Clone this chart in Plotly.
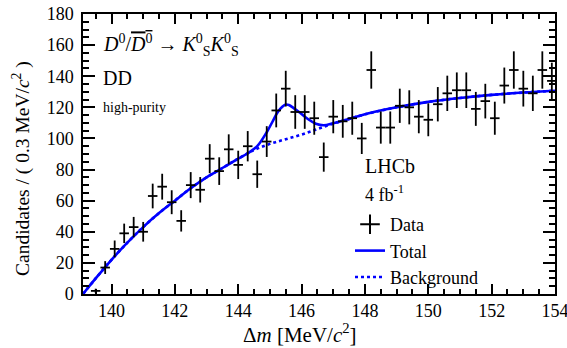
import numpy as np
import plotly.graph_objects as go

# ---- data ----
bin_centers = [139.5, 139.8, 140.1, 140.4, 140.7, 141.0, 141.3, 141.6, 141.9, 142.2,
               142.5, 142.8, 143.1, 143.4, 143.7, 144.0, 144.3, 144.6, 144.9, 145.2,
               145.5, 145.8, 146.1, 146.4, 146.7, 147.0, 147.3, 147.6, 147.9, 148.2,
               148.5, 148.8, 149.1, 149.4, 149.7, 150.0, 150.3, 150.6, 150.9, 151.2,
               151.5, 151.8, 152.1, 152.4, 152.7, 153.0, 153.3, 153.6, 153.9]
counts = [2, 17, 29, 39, 43, 40, 63, 69, 59, 47,
          70, 67, 87, 79, 93, 83, 95, 77, 98, 118,
          132, 117, 117, 113, 88, 114, 111, 113, 100, 144,
          107, 107, 121, 120, 114, 112, 122, 129, 131, 131,
          119, 124, 113, 134, 144, 132, 129, 144, 137]
bin_halfwidth = [0.15] * len(bin_centers)

bkg_x = [139.1, 139.5, 140.0, 140.5, 141.0, 141.5, 142.0, 142.5, 143.0, 143.5,
         144.0, 144.5, 145.0, 145.5, 146.0, 146.5, 147.0, 147.5, 148.0, 149.0,
         150.0, 151.0, 152.0, 153.0, 154.0]
bkg_y = [0, 10, 22, 33, 43, 52, 60, 68, 75, 81,
         87, 92.5, 96.5, 99.5, 102.5, 106, 109.5, 112.5, 115.5, 120,
         123.5, 126, 128, 129.5, 130.7]

tot_x = [139.1, 139.5, 140.0, 140.5, 141.0, 141.5, 142.0, 142.5, 143.0, 143.5,
         144.0, 144.3, 144.6, 144.9, 145.1, 145.25, 145.4, 145.5, 145.6, 145.75,
         145.95, 146.2, 146.45, 146.7, 147.0, 147.5, 148.0, 149.0, 150.0, 151.0,
         152.0, 153.0, 154.0]
tot_y = [0, 10, 22, 33, 43, 52, 60, 68, 75, 81,
         87, 90.5, 95, 104, 111.5, 117, 120.5, 121.8, 121.5, 119.5,
         116.5, 112.5, 109.5, 108.5, 109.8, 112.5, 115.5, 120, 123.5, 126,
         128, 129.5, 130.7]

errors = list(np.sqrt(np.array(counts, dtype=float)))

# ---- layout helpers ----
W, H = 567, 348
L, R, T, B = 83, 12, 14, 54
pw, ph = W - L - R, H - T - B

def px(x):
    return (x - L) / pw

def py(y):
    return (H - B - y) / ph

FONT = "Liberation Serif"
BLUE = "#0000ff"

fig = go.Figure()

fig.add_trace(go.Scatter(x=bkg_x, y=bkg_y, mode="lines", line=dict(color=BLUE, width=2.6, dash="dot", shape="spline"),
                         name="Background", showlegend=False))
fig.add_trace(go.Scatter(x=tot_x, y=tot_y, mode="lines", line=dict(color=BLUE, width=2.6, shape="spline"),
                         name="Total", showlegend=False))
fig.add_trace(go.Scatter(x=bin_centers, y=counts, mode="markers",
                         marker=dict(size=1, color="black"),
                         error_y=dict(type="data", array=errors, color="black", thickness=1.8, width=0),
                         error_x=dict(type="data", array=bin_halfwidth, color="black", thickness=1.8, width=0),
                         name="Data", showlegend=False))

# legend entries
fig.add_trace(go.Scatter(x=[None], y=[None], mode="markers", name="Data",
                         marker=dict(symbol="cross-thin", size=14, line=dict(color="black", width=2))))
fig.add_trace(go.Scatter(x=[None], y=[None], mode="lines", name="Total",
                         line=dict(color=BLUE, width=2.6)))
fig.add_trace(go.Scatter(x=[None], y=[None], mode="lines", name="Background",
                         line=dict(color=BLUE, width=2.6, dash="dot")))

axis_common = dict(showgrid=False, zeroline=False, showline=True, linecolor="black", linewidth=1.5,
                   mirror="ticks", ticks="inside", tickcolor="black", tickwidth=1.5, automargin=False,
                   ticklabeloverflow="allow",
                   tickfont=dict(family=FONT, size=18, color="black"))

fig.update_xaxes(range=[139.1, 154], tick0=140, dtick=2, ticklen=10,
                 minor=dict(dtick=0.5, ticks="inside", ticklen=5, tickcolor="black", tickwidth=1.5),
                 **axis_common)
fig.update_yaxes(range=[0, 180], tick0=0, dtick=20, ticklen=12, ticklabelstandoff=4,
                 minor=dict(dtick=5, ticks="inside", ticklen=6, tickcolor="black", tickwidth=1.5),
                 **axis_common)

ann = []
def text(x, y, s, size, xanchor="left", angle=0):
    ann.append(dict(x=px(x), y=py(y), xref="paper", yref="paper", text=s, showarrow=False,
                    xanchor=xanchor, yanchor="middle", textangle=angle,
                    font=dict(family=FONT, size=size, color="black")))

text(101, 45, "<i>D</i><sup>0</sup>/<span style=\"text-decoration:overline\"><i>D</i><sup>0</sup></span> → <i>K</i><sup>0</sup><sub>S</sub><i>K</i><sup>0</sup><sub>S</sub>", 20)
text(101, 78, "DD", 20)
text(101, 107, "high-purity", 14)
text(363, 166, "LHCb", 20)
text(363, 193, "4 fb<sup>-1</sup>", 18)
text(300, 333, "Δ<i>m</i> [MeV/<i>c</i><sup>2</sup>]", 21, xanchor="center")
text(21, 169, "Candidates / ( 0.3 MeV/<i>c</i><sup>2</sup> )", 19.5, xanchor="center", angle=-90)

fig.update_layout(
    width=W, height=H,
    margin=dict(l=L, r=R, t=T, b=B, autoexpand=False),
    paper_bgcolor="white", plot_bgcolor="white",
    font=dict(family=FONT, color="black"),
    annotations=ann,
    legend=dict(x=px(350), y=py(206), xanchor="left", yanchor="top",
                bgcolor="rgba(0,0,0,0)", font=dict(family=FONT, size=18, color="black"),
                tracegroupgap=0, itemwidth=30),
)

fig.write_html("out.html")
